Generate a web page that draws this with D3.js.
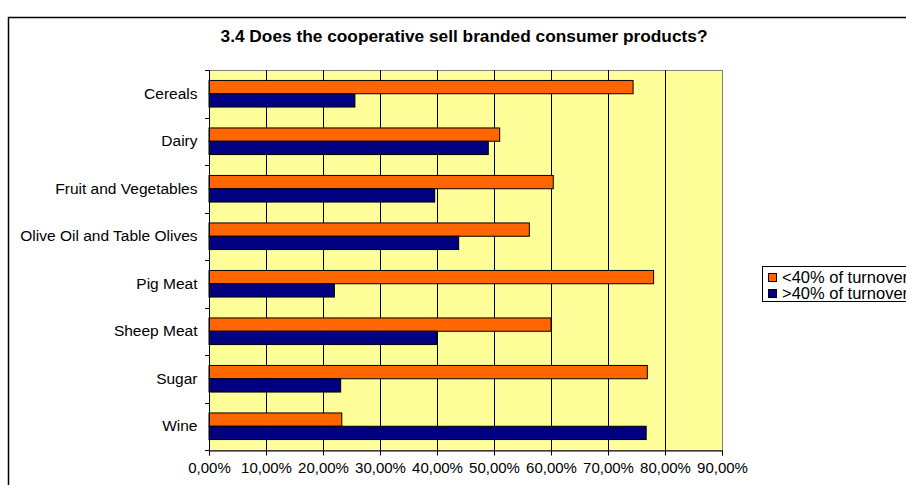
<!DOCTYPE html>
<html>
<head>
<meta charset="utf-8">
<script src="https://cdn.jsdelivr.net/npm/d3@7"></script>
<style>
  body { margin: 0; background: #fff; }
  svg { display: block; font-family: "Liberation Sans", Arial, sans-serif; }
</style>
</head>
<body>
<div id="chart-area"></div>
<script>
// data
const categories = ['Cereals', 'Dairy', 'Fruit and Vegetables', 'Olive Oil and Table Olives',
  'Pig Meat', 'Sheep Meat', 'Sugar', 'Wine'];
const seriesNames = ['<40% of turnover', '>40% of turnover'];
const below40 = [0.744, 0.510, 0.604, 0.562, 0.780, 0.600, 0.769, 0.233];
const above40 = [0.256, 0.490, 0.396, 0.438, 0.220, 0.400, 0.231, 0.767];
const xTicks = [0, 0.1, 0.2, 0.3, 0.4, 0.5, 0.6, 0.7, 0.8, 0.9];
const xTickLabels = ['0,00%', '10,00%', '20,00%', '30,00%', '40,00%', '50,00%',
  '60,00%', '70,00%', '80,00%', '90,00%'];
const colors = ['#FF6600', '#000080'];

const W = 906, H = 485;
const plot = { left: 209, right: 722, top: 70, bottom: 450 };

const svg = d3.select('#chart-area').append('svg')
  .attr('width', W)
  .attr('height', H);

// chart area border
svg.append('rect')
  .attr('x', 8.5).attr('y', 17.5)
  .attr('width', 1000).attr('height', 500)
  .attr('fill', '#fff')
  .attr('stroke', '#000')
  .attr('stroke-width', 1.5);

// title
svg.append('text')
  .attr('x', 464)
  .attr('y', 42)
  .attr('text-anchor', 'middle')
  .attr('font-size', '17.3px')
  .attr('font-weight', 'bold')
  .text('3.4 Does the cooperative sell branded consumer products?');

// scales
const x = d3.scaleLinear()
  .domain([0, 0.9])
  .range([plot.left, plot.right]);

const y0 = d3.scaleBand()
  .domain(categories)
  .range([plot.top, plot.bottom]);

const y1 = d3.scaleBand()
  .domain(seriesNames)
  .range([y0.bandwidth() * 0.22, y0.bandwidth() * 0.78]);

// plot background
svg.append('rect')
  .attr('x', plot.left + 0.5).attr('y', plot.top + 0.5)
  .attr('width', plot.right - plot.left)
  .attr('height', plot.bottom - plot.top)
  .attr('fill', '#FFFF99')
  .attr('stroke', '#808080');

// gridlines
svg.append('g')
  .selectAll('line')
  .data(xTicks.slice(1, -1))
  .enter().append('line')
    .attr('x1', d => Math.round(x(d)) + 0.5)
    .attr('x2', d => Math.round(x(d)) + 0.5)
    .attr('y1', plot.top)
    .attr('y2', plot.bottom)
    .attr('stroke', '#000');

// bars
const rows = categories.map((c, i) => ({ cat: c, vals: [below40[i], above40[i]] }));
const groups = svg.append('g').selectAll('g')
  .data(rows)
  .enter().append('g')
    .attr('transform', d => `translate(0, ${y0(d.cat)})`);

groups.selectAll('rect')
  .data(d => d.vals.map((v, j) => ({ name: seriesNames[j], v: v, j: j })))
  .enter().append('rect')
    .attr('x', x(0))
    .attr('y', d => y1(d.name))
    .attr('width', d => x(d.v) - x(0))
    .attr('height', y1.bandwidth())
    .attr('fill', d => colors[d.j])
    .attr('stroke', '#000')
    .attr('stroke-width', 1);

// x axis
const xAxisCall = d3.axisBottom(x)
  .tickValues(xTicks)
  .tickSize(5)
  .tickPadding(7)
  .tickFormat((d, i) => xTickLabels[i]);
svg.append('g')
  .attr('class', 'x-axis')
  .attr('transform', `translate(0, ${plot.bottom + 0.5})`)
  .call(xAxisCall)
  .call(g => g.selectAll('text').attr('font-size', '15px').attr('fill', '#000').attr('font-family', null))
  .call(g => g.selectAll('line, path').attr('stroke', '#000'));

// y axis (labels at band centres, ticks at band edges)
const yAxisCall = d3.axisLeft(y0)
  .tickSize(0)
  .tickPadding(12);
svg.append('g')
  .attr('class', 'y-axis')
  .attr('transform', `translate(${plot.left + 0.5}, 0)`)
  .call(yAxisCall)
  .call(g => g.select('.domain').remove())
  .call(g => g.selectAll('text').attr('font-size', '15.5px').attr('fill', '#000').attr('font-family', null));

svg.append('line')
  .attr('x1', plot.left + 0.5).attr('x2', plot.left + 0.5)
  .attr('y1', plot.top).attr('y2', plot.bottom + 5)
  .attr('stroke', '#000');

svg.append('g')
  .selectAll('line')
  .data(categories.map(c => y0(c)).concat([plot.bottom]))
  .enter().append('line')
    .attr('x1', plot.left - 4).attr('x2', plot.left)
    .attr('y1', d => Math.round(d) + 0.5)
    .attr('y2', d => Math.round(d) + 0.5)
    .attr('stroke', '#000');

// legend
const legend = svg.append('g').attr('transform', 'translate(762, 266)');
legend.append('rect')
  .attr('x', 0.5).attr('y', 0.5)
  .attr('width', 200).attr('height', 35)
  .attr('fill', '#fff')
  .attr('stroke', '#000');

seriesNames.forEach((name, i) => {
  legend.append('rect')
    .attr('x', 6.5).attr('y', 7.5 + i * 16)
    .attr('width', 8).attr('height', 8)
    .attr('fill', colors[i])
    .attr('stroke', '#000');
  legend.append('text')
    .attr('x', 20)
    .attr('y', 17 + i * 16)
    .attr('font-size', '16.5px')
    .text(name);
});
</script>
</body>
</html>
